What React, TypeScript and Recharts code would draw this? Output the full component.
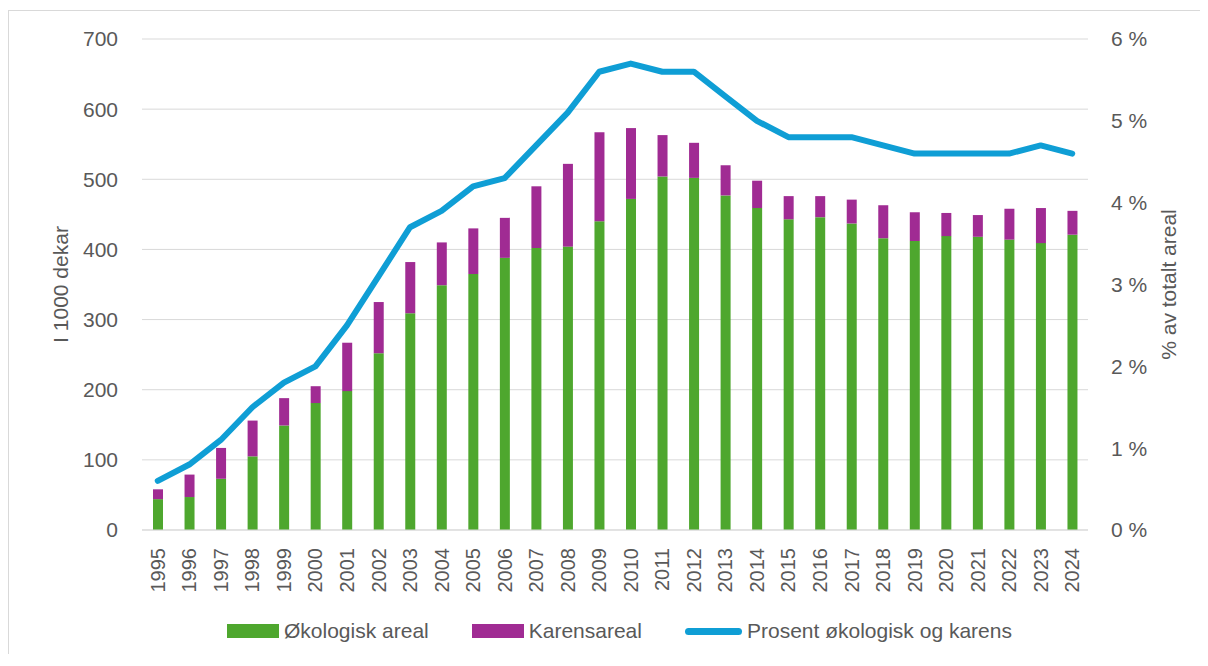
import {
  ComposedChart,
  Bar,
  Line,
  XAxis,
  YAxis,
  CartesianGrid,
  Legend,
} from 'recharts';

const years = [
  '1995', '1996', '1997', '1998', '1999', '2000', '2001', '2002', '2003', '2004',
  '2005', '2006', '2007', '2008', '2009', '2010', '2011', '2012', '2013', '2014',
  '2015', '2016', '2017', '2018', '2019', '2020', '2021', '2022', '2023', '2024',
];

const okologisk = [
  44, 47, 73, 105, 149, 181, 198, 252, 309, 349,
  365, 388, 402, 404, 440, 472, 504, 502, 477, 459,
  443, 446, 437, 416, 412, 419, 418, 414, 409, 421,
];

const karens = [
  14, 32, 44, 51, 39, 24, 69, 73, 73, 61,
  65, 57, 88, 118, 127, 101, 59, 50, 43, 39,
  33, 30, 34, 47, 41, 33, 31, 44, 50, 34,
];

const prosent = [
  0.6, 0.8, 1.1, 1.5, 1.8, 2.0, 2.5, 3.1, 3.7, 3.9,
  4.2, 4.3, 4.7, 5.1, 5.6, 5.7, 5.6, 5.6, 5.3, 5.0,
  4.8, 4.8, 4.8, 4.7, 4.6, 4.6, 4.6, 4.6, 4.7, 4.6,
];

const leftTicks = [0, 100, 200, 300, 400, 500, 600, 700];
const rightTicks = [0, 1, 2, 3, 4, 5, 6];

const GREEN = '#4EA72E';
const PURPLE = '#A02B93';
const BLUE = '#0F9ED5';
const TEXT = '#595959';
const GRID = '#D9D9D9';
const FONT = '"Liberation Sans", Arial, sans-serif';

const data = years.map((year, i) => ({
  year,
  okologisk: okologisk[i],
  karens: karens[i],
  prosent: prosent[i],
}));

function YearTick({ x, y, payload }: any) {
  return (
    <text
      x={x}
      y={y}
      transform={`rotate(-90, ${x}, ${y})`}
      textAnchor="end"
      dominantBaseline="central"
      fill={TEXT}
      fontSize={20}
      fontFamily={FONT}
    >
      {payload.value}
    </text>
  );
}

function ChartLegend() {
  const items = [
    { label: 'Økologisk areal', color: GREEN, kind: 'box' },
    { label: 'Karensareal', color: PURPLE, kind: 'box' },
    { label: 'Prosent økologisk og karens', color: BLUE, kind: 'line' },
  ];
  return (
    <div
      style={{
        height: 50,
        display: 'flex',
        alignItems: 'center',
        paddingLeft: 218,
        fontFamily: FONT,
        fontSize: 21,
        color: TEXT,
      }}
    >
      {items.map((it) => (
        <div key={it.label} style={{ display: 'flex', alignItems: 'center', marginRight: 43 }}>
          {it.kind === 'box' ? (
            <span style={{ display: 'inline-block', width: 52, height: 14, background: it.color }} />
          ) : (
            <span
              style={{
                display: 'inline-block',
                width: 57,
                height: 7,
                borderRadius: 4,
                background: it.color,
              }}
            />
          )}
          <span style={{ marginLeft: 5, whiteSpace: 'nowrap' }}>{it.label}</span>
        </div>
      ))}
    </div>
  );
}

export default function App() {
  return (
    <div
      style={{
        position: 'relative',
        top: 2,
        width: 1199,
        borderTop: `1px solid ${GRID}`,
        borderLeft: `1px solid ${GRID}`,
        background: '#fff',
      }}
    >
      <ComposedChart
        width={1199}
        height={645}
        data={data}
        margin={{ top: 28, right: 20, bottom: 0, left: 0 }}
        style={{ fontFamily: FONT }}
      >
        <CartesianGrid vertical={false} stroke={GRID} strokeWidth={1} yAxisId="left" />
        <XAxis
          dataKey="year"
          interval={0}
          height={76}
          tick={<YearTick />}
          tickLine={false}
          tickMargin={12}
          axisLine={{ stroke: GRID }}
        />
        <YAxis
          yAxisId="left"
          width={133}
          domain={[0, 700]}
          ticks={leftTicks}
          axisLine={false}
          tickLine={false}
          tickMargin={18}
          tick={{ fill: TEXT, fontSize: 21, fontFamily: FONT }}
          label={{
            value: 'I 1000 dekar',
            angle: -90,
            position: 'center',
            dx: -15,
            fill: TEXT,
            fontSize: 21,
            fontFamily: FONT,
          }}
        />
        <YAxis
          yAxisId="right"
          orientation="right"
          width={100}
          domain={[0, 6]}
          ticks={rightTicks}
          axisLine={false}
          tickLine={false}
          tickMargin={17}
          tickFormatter={(v: number) => `${v} %`}
          tick={{ fill: TEXT, fontSize: 21, fontFamily: FONT, textAnchor: 'start' }}
          label={{
            value: '% av totalt areal',
            angle: -90,
            position: 'center',
            dx: 31,
            fill: TEXT,
            fontSize: 21,
            fontFamily: FONT,
          }}
        />
        <Legend verticalAlign="bottom" height={50} content={<ChartLegend />} />
        <Bar
          yAxisId="left"
          dataKey="okologisk"
          name="Økologisk areal"
          stackId="a"
          fill={GREEN}
          barSize={10}
          isAnimationActive={false}
        />
        <Bar
          yAxisId="left"
          dataKey="karens"
          name="Karensareal"
          stackId="a"
          fill={PURPLE}
          barSize={10}
          isAnimationActive={false}
        />
        <Line
          yAxisId="right"
          type="linear"
          dataKey="prosent"
          name="Prosent økologisk og karens"
          stroke={BLUE}
          strokeWidth={6}
          strokeLinecap="round"
          strokeLinejoin="round"
          dot={false}
          activeDot={false}
          isAnimationActive={false}
        />
      </ComposedChart>
    </div>
  );
}
